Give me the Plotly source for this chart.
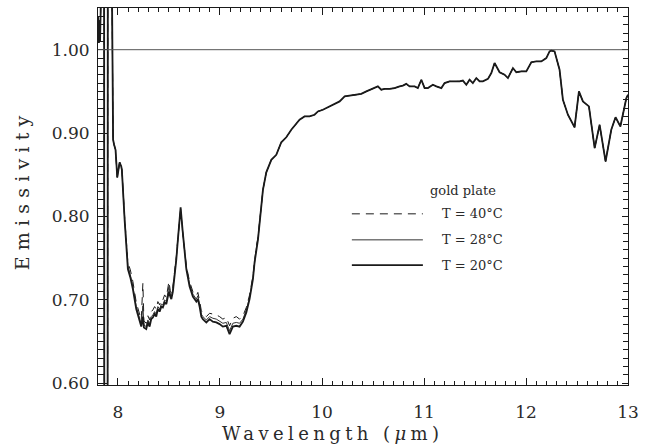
import plotly.graph_objects as go

# Wavelength grid (µm), shared by the three spectra
wl = [7.805, 7.812, 7.818, 7.824, 7.830, 7.836, 7.864, 7.866, 7.898, 7.900,
      7.938, 7.952, 7.962, 7.976, 7.993, 8.016, 8.032, 8.038, 8.065, 8.087,
      8.097, 8.121, 8.146, 8.179, 8.212, 8.228, 8.244, 8.254, 8.277, 8.293,
      8.310, 8.326, 8.342, 8.359, 8.375, 8.391, 8.408, 8.425, 8.440, 8.457,
      8.474, 8.489, 8.499, 8.513, 8.523, 8.538, 8.555, 8.572, 8.587, 8.604,
      8.614, 8.633, 8.653, 8.670, 8.702, 8.734, 8.768, 8.783, 8.800, 8.817,
      8.832, 8.866, 8.898, 8.930, 8.964, 8.996, 9.028, 9.062, 9.094, 9.126,
      9.160, 9.192, 9.225, 9.258, 9.290, 9.323, 9.339, 9.356, 9.372, 9.421,
      9.454, 9.503, 9.552, 9.601, 9.650, 9.699, 9.780, 9.829, 9.878, 9.927,
      9.960, 10.009, 10.075, 10.124, 10.173, 10.222, 10.271, 10.336, 10.385, 10.435,
      10.499, 10.548, 10.581, 10.614, 10.663, 10.712, 10.761, 10.793, 10.826, 10.859,
      10.908, 10.940, 10.974, 11.006, 11.038, 11.087, 11.121, 11.170, 11.202, 11.251,
      11.300, 11.349, 11.381, 11.415, 11.447, 11.479, 11.513, 11.545, 11.577, 11.627,
      11.660, 11.692, 11.741, 11.790, 11.823, 11.872, 11.905, 11.954, 12.003, 12.052,
      12.101, 12.150, 12.199, 12.231, 12.248, 12.280, 12.329, 12.362, 12.411, 12.476,
      12.519, 12.558, 12.617, 12.673, 12.722, 12.780, 12.836, 12.878, 12.925, 12.950,
      12.984, 13.000]

# Emissivity, T = 20 °C (thick line)
e20 = [1.040, 1.008, 1.035, 1.010, 1.045, 1.120, 1.120, 0.500, 0.500, 1.120,
       1.120, 0.892, 0.886, 0.880, 0.847, 0.865, 0.860, 0.856, 0.796, 0.760,
       0.737, 0.727, 0.713, 0.689, 0.673, 0.668, 0.680, 0.667, 0.665, 0.673,
       0.668, 0.677, 0.679, 0.683, 0.680, 0.689, 0.686, 0.692, 0.691, 0.697,
       0.695, 0.704, 0.710, 0.704, 0.701, 0.710, 0.728, 0.749, 0.772, 0.793,
       0.811, 0.784, 0.757, 0.737, 0.716, 0.704, 0.698, 0.701, 0.692, 0.680,
       0.677, 0.673, 0.677, 0.674, 0.673, 0.671, 0.668, 0.669, 0.659, 0.668,
       0.669, 0.668, 0.674, 0.685, 0.701, 0.725, 0.745, 0.760, 0.772, 0.832,
       0.853, 0.868, 0.874, 0.889, 0.895, 0.904, 0.916, 0.920, 0.920, 0.922,
       0.926, 0.928, 0.932, 0.935, 0.938, 0.944, 0.945, 0.946, 0.947, 0.950,
       0.953, 0.956, 0.952, 0.953, 0.953, 0.954, 0.956, 0.957, 0.959, 0.956,
       0.956, 0.954, 0.964, 0.954, 0.954, 0.958, 0.956, 0.954, 0.960, 0.962,
       0.962, 0.962, 0.963, 0.958, 0.964, 0.960, 0.966, 0.962, 0.962, 0.965,
       0.972, 0.984, 0.973, 0.970, 0.966, 0.978, 0.973, 0.974, 0.974, 0.985,
       0.986, 0.986, 0.990, 0.998, 0.999, 0.998, 0.976, 0.940, 0.922, 0.907,
       0.950, 0.938, 0.932, 0.882, 0.910, 0.866, 0.904, 0.919, 0.908, 0.924,
       0.942, 0.946]

# Emissivity, T = 28 °C (thin line)
e28 = [1.040, 1.008, 1.035, 1.010, 1.045, 1.120, 1.120, 0.500, 0.500, 1.120,
       1.120, 0.892, 0.886, 0.880, 0.847, 0.865, 0.860, 0.856, 0.798, 0.763,
       0.741, 0.730, 0.716, 0.692, 0.676, 0.671, 0.693, 0.670, 0.668, 0.676,
       0.671, 0.680, 0.682, 0.686, 0.683, 0.692, 0.689, 0.695, 0.694, 0.700,
       0.698, 0.708, 0.716, 0.707, 0.704, 0.713, 0.730, 0.750, 0.773, 0.794,
       0.809, 0.783, 0.758, 0.739, 0.719, 0.707, 0.701, 0.705, 0.695, 0.683,
       0.680, 0.676, 0.680, 0.678, 0.677, 0.675, 0.672, 0.673, 0.663, 0.672,
       0.673, 0.672, 0.677, 0.688, 0.703, 0.727, 0.747, 0.762, 0.773, 0.832,
       0.853, 0.868, 0.874, 0.889, 0.895, 0.904, 0.916, 0.920, 0.920, 0.922,
       0.926, 0.928, 0.932, 0.935, 0.938, 0.944, 0.945, 0.946, 0.947, 0.950,
       0.953, 0.956, 0.952, 0.953, 0.953, 0.954, 0.956, 0.957, 0.959, 0.956,
       0.956, 0.954, 0.964, 0.954, 0.954, 0.958, 0.956, 0.954, 0.960, 0.962,
       0.962, 0.962, 0.963, 0.958, 0.964, 0.960, 0.966, 0.962, 0.962, 0.965,
       0.972, 0.984, 0.973, 0.970, 0.966, 0.978, 0.973, 0.974, 0.974, 0.985,
       0.986, 0.986, 0.990, 0.998, 0.999, 0.998, 0.976, 0.940, 0.922, 0.907,
       0.950, 0.938, 0.932, 0.882, 0.910, 0.866, 0.904, 0.919, 0.908, 0.924,
       0.942, 0.946]

# Emissivity, T = 40 °C (dashed line)
e40 = [1.040, 1.008, 1.035, 1.010, 1.045, 1.120, 1.120, 0.500, 0.500, 1.120,
       1.120, 0.892, 0.886, 0.880, 0.847, 0.865, 0.860, 0.856, 0.800, 0.766,
       0.745, 0.736, 0.722, 0.697, 0.681, 0.676, 0.720, 0.675, 0.672, 0.681,
       0.676, 0.686, 0.688, 0.692, 0.689, 0.698, 0.694, 0.701, 0.700, 0.706,
       0.703, 0.713, 0.722, 0.711, 0.708, 0.716, 0.733, 0.752, 0.774, 0.795,
       0.808, 0.782, 0.759, 0.741, 0.722, 0.710, 0.705, 0.709, 0.699, 0.687,
       0.684, 0.680, 0.684, 0.683, 0.682, 0.680, 0.677, 0.679, 0.669, 0.678,
       0.680, 0.677, 0.681, 0.691, 0.706, 0.729, 0.749, 0.764, 0.775, 0.832,
       0.853, 0.868, 0.874, 0.889, 0.895, 0.904, 0.916, 0.920, 0.920, 0.922,
       0.926, 0.928, 0.932, 0.935, 0.938, 0.944, 0.945, 0.946, 0.947, 0.950,
       0.953, 0.956, 0.952, 0.953, 0.953, 0.954, 0.956, 0.957, 0.959, 0.956,
       0.956, 0.954, 0.964, 0.954, 0.954, 0.958, 0.956, 0.954, 0.960, 0.962,
       0.962, 0.962, 0.963, 0.958, 0.964, 0.960, 0.966, 0.962, 0.962, 0.965,
       0.972, 0.984, 0.973, 0.970, 0.966, 0.978, 0.973, 0.974, 0.974, 0.985,
       0.986, 0.986, 0.990, 0.998, 0.999, 0.998, 0.976, 0.940, 0.922, 0.907,
       0.950, 0.938, 0.932, 0.882, 0.910, 0.866, 0.904, 0.919, 0.908, 0.924,
       0.942, 0.946]

assert len(wl) == len(e20) == len(e28) == len(e40)

x_ticks = [8, 9, 10, 11, 12, 13]
y_ticks = [0.60, 0.70, 0.80, 0.90, 1.00]
legend_title = "gold plate"
legend_labels = ["T = 40°C", "T = 28°C", "T = 20°C"]
x_title = "Wavelength (<i>μ</i>m)"
y_title = "Emissivity"

X_RANGE = [7.804, 13.0]
Y_RANGE = [0.598, 1.05]

FONT = "DejaVu Serif"
INK = "#1a1a1a"
TXT = "#2a2a2a"

fig = go.Figure()
fig.add_trace(go.Scatter(x=wl, y=e40, mode="lines",
                         line=dict(color=INK, width=1, dash="8px,6px")))
fig.add_trace(go.Scatter(x=wl, y=e28, mode="lines",
                         line=dict(color="#333333", width=1)))
fig.add_trace(go.Scatter(x=wl, y=e20, mode="lines",
                         line=dict(color=INK, width=1.8)))
# empty trace that carries the mirrored (top / right) tick axes
fig.add_trace(go.Scatter(x=[], y=[], xaxis="x2", yaxis="y2", hoverinfo="skip"))

# reference line at emissivity 1.00
fig.add_hline(y=1.0, line=dict(color="#555555", width=1))

# hand-drawn legend
leg_y = [0.454, 0.385, 0.318]
styles = [dict(color=INK, width=1, dash="8px,6px"),
          dict(color="#333333", width=1),
          dict(color=INK, width=1.8)]
for lab, yy, st in zip(legend_labels, leg_y, styles):
    fig.add_shape(type="line", xref="paper", yref="paper",
                  x0=0.479, x1=0.613, y0=yy, y1=yy, line=st)
    fig.add_annotation(xref="paper", yref="paper", x=0.645, y=yy,
                       text=lab, showarrow=False, xanchor="left",
                       yanchor="middle",
                       font=dict(family=FONT, size=13, color=TXT))
fig.add_annotation(xref="paper", yref="paper", x=0.688, y=0.517,
                   text=legend_title, showarrow=False, xanchor="center",
                   yanchor="middle", font=dict(family=FONT, size=13, color=TXT))

# axis titles (placed as in the original figure)
fig.add_annotation(xref="paper", yref="paper", x=0.443, y=-0.128,
                   text=x_title, showarrow=False, xanchor="center",
                   yanchor="middle", name="xtitle",
                   font=dict(family=FONT, size=18, color=TXT))
fig.add_annotation(xref="paper", yref="paper", x=-0.143, y=0.517,
                   text=y_title, showarrow=False, xanchor="center",
                   yanchor="middle", textangle=-90, name="ytitle",
                   font=dict(family=FONT, size=19, color=TXT))

axis_common = dict(
    showline=True, linecolor=INK, linewidth=1,
    ticks="inside", tickcolor=INK, showgrid=False, zeroline=False,
    tickfont=dict(family=FONT, size=17, color=TXT),
)

fig.update_layout(
    xaxis=dict(range=X_RANGE, tickvals=x_ticks, ticklen=7,
               minor=dict(dtick=0.1, ticklen=4, ticks="inside", tickcolor=INK),
               ticklabelstandoff=12, **axis_common),
    yaxis=dict(range=Y_RANGE, tickvals=y_ticks, tickformat=".2f", ticklen=9,
               minor=dict(dtick=0.01, tick0=0.6, ticklen=6, ticks="inside",
                          tickcolor=INK),
               ticklabelstandoff=4, **axis_common),
    xaxis2=dict(range=X_RANGE, overlaying="x", side="top", anchor="y2",
                tickvals=x_ticks, ticklen=7, showticklabels=False,
                minor=dict(dtick=0.1, ticklen=4, ticks="inside", tickcolor=INK),
                **axis_common),
    yaxis2=dict(range=Y_RANGE, overlaying="y", side="right", anchor="x2",
                tickvals=y_ticks, ticklen=6, showticklabels=False,
                minor=dict(dtick=0.01, tick0=0.6, ticklen=5, ticks="inside",
                           tickcolor=INK),
                **axis_common),
    width=652, height=446,
    margin=dict(l=98, r=24, t=8, b=61),
    paper_bgcolor="white", plot_bgcolor="white",
    showlegend=False,
)

# wide letter spacing of the original's axis-title lettering
post = """
var gd = document.getElementById('{plot_id}');
function spread(){
  gd.querySelectorAll('text.annotation-text').forEach(function(t){
    var s = t.textContent;
    if (s.indexOf('Wavelength') === 0) { t.style.letterSpacing = '4.4px'; }
    if (s.indexOf('Emissivity') === 0) { t.style.letterSpacing = '6.2px'; }
  });
}
spread();
gd.on('plotly_afterplot', spread);
"""

fig.write_html("out.html", post_script=post)
